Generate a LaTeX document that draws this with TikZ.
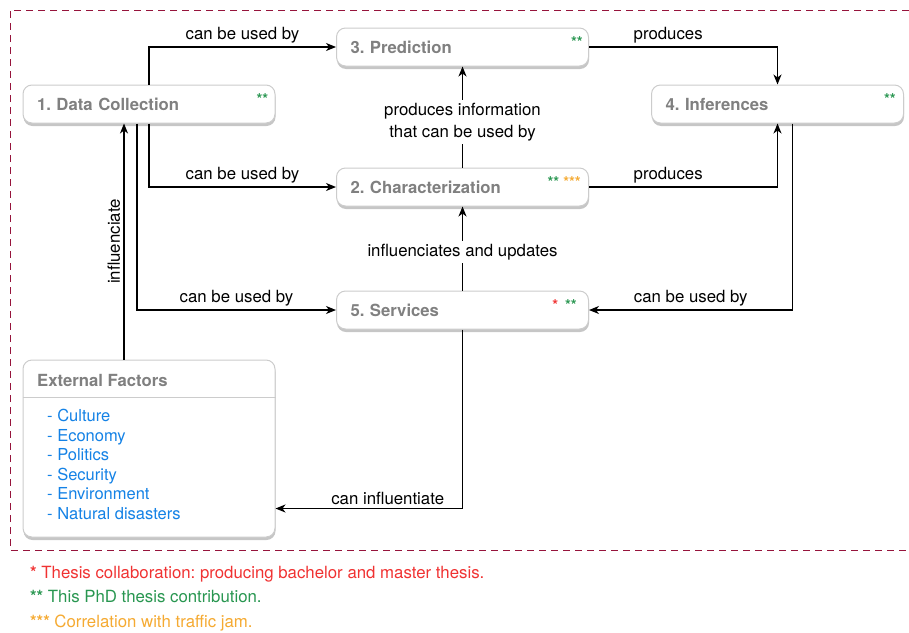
\documentclass[tikz,border=0pt]{standalone}
\usepackage{fontspec}
\setmainfont{TeX Gyre Heros}
\usetikzlibrary{arrows.meta,shadows}
\definecolor{framered}{RGB}{150,20,60}
\definecolor{boxgray}{RGB}{128,128,128}
\definecolor{starred}{RGB}{240,50,50}
\definecolor{stargreen}{RGB}{40,150,80}
\definecolor{starorange}{RGB}{245,170,50}
\definecolor{listblue}{RGB}{20,130,230}
\frenchspacing

\begin{document}
\begin{tikzpicture}
    [
        x=1pt, y=-1pt,
        >={Stealth[length=10pt,width=8pt,inset=3pt]},
        box_style/.style={rectangle, rounded corners=9pt, draw=black!20, fill=white, line width=1pt,
            drop shadow={shadow xshift=0.5pt, shadow yshift=-3pt, opacity=0.45},
            text width=224pt, inner xsep=14pt, inner ysep=0pt, minimum height=38pt, align=left,
            text=boxgray, font=\fontsize{16.7}{20}\selectfont\bfseries},
        title_style/.style={text=boxgray, font=\fontsize{16.7}{20}\selectfont\bfseries, anchor=base west, inner sep=0pt},
        star_style/.style={font=\fontsize{15}{16}\selectfont\bfseries, anchor=base east, inner sep=0pt},
        edge_style/.style={draw=black, line width=1.2pt, ->},
        label_style/.style={font=\fontsize{16.8}{22}\selectfont, text=black},
        note_style/.style={font=\fontsize{16.8}{20}\selectfont, anchor=base west, inner sep=0pt}
    ]
        \useasboundingbox (0,0) rectangle (909,632);
        \draw[framered, dash pattern=on 7pt off 5pt, line width=1pt] (909,10) -- (10,10) -- (10,550) -- (909,550);

        \node[box_style] (dc) at (149,104) {1. Data Collection};
        \node[box_style] (pred) at (462.5,47) {3. Prediction};
        \node[box_style] (inf) at (777.5,104) {4. Inferences};
        \node[box_style] (char) at (462.5,187) {2. Characterization};
        \node[box_style] (serv) at (462.5,310) {5. Services};
        \node[box_style, minimum height=177pt] (ext) at (149,448.5) {};

        \node[star_style, text=stargreen] (dcstar) at ([xshift=-7pt,yshift=-20pt]dc.north east) {**};
        \node[star_style, text=stargreen] (predstar) at ([xshift=-6pt,yshift=-20pt]pred.north east) {**};
        \node[star_style, text=stargreen] (infstar) at ([xshift=-8pt,yshift=-20pt]inf.north east) {**};
        \node[star_style] (charstar) at ([xshift=-8pt,yshift=-20pt]char.north east) {{\color{stargreen}**}\hspace{4pt}{\color{starorange}***}};
        \node[star_style] (servstar) at ([xshift=-12pt,yshift=-20pt]serv.north east) {{\color{starred}*}\hspace{7pt}{\color{stargreen}**}};

        \node[title_style] (exttitle) at (37,386) {External Factors};
        \draw[black!20, line width=1pt] (ext.west |- 0,397) -- (ext.east |- 0,397);
        \node[anchor=north west, align=left, text=listblue, font=\fontsize{16.5}{19.6}\selectfont, inner sep=0pt] (extlist) at (47,409)
            {- Culture\\- Economy\\- Politics\\- Security\\- Environment\\- Natural disasters};
        \coordinate (extin) at ([yshift=29pt]ext.south east);

        \draw[edge_style] (dc.north) |- node[label_style, pos=0.75, above] {can be used by} (pred.west);
        \draw[edge_style] (dc.south) |- node[label_style, pos=0.75, above] {can be used by} (char.west);
        \draw[edge_style] ([xshift=-12pt]dc.south) |- node[label_style, pos=0.75, above] {can be used by} (serv.west);
        \draw[edge_style] ([xshift=-25pt]ext.north) -- node[label_style, midway, sloped, above] {influenciate} ([xshift=-25pt]dc.south);
        \draw[edge_style] (pred.east) -| node[label_style, pos=0.21, above] {produces} (inf.north);
        \draw[edge_style] (char.east) -| node[label_style, pos=0.21, above] {produces} (inf.south);
        \draw[edge_style] ([xshift=15pt]inf.south) |- node[label_style, pos=0.75, above] {can be used by} (serv.east);
        \draw[edge_style] (char.north) -- node[label_style, pos=0.45, fill=white, align=center] {produces information\\that can be used by} (pred.south);
        \draw[edge_style] (serv.north) -- node[label_style, pos=0.46, fill=white] {influenciates and updates} (char.south);
        \draw[edge_style] (serv.south) |- node[label_style, pos=0.7, above] {can influentiate} (extin);

        \node[note_style, text=starred] (note1) at (30,578) {{\bfseries *} Thesis collaboration: producing bachelor and master thesis.};
        \node[note_style, text=stargreen] (note2) at (30,602) {{\bfseries **} This PhD thesis contribution.};
        \node[note_style, text=starorange] (note3) at (30,627) {{\bfseries ***} Correlation with traffic jam.};
    \end{tikzpicture}
\end{document}
